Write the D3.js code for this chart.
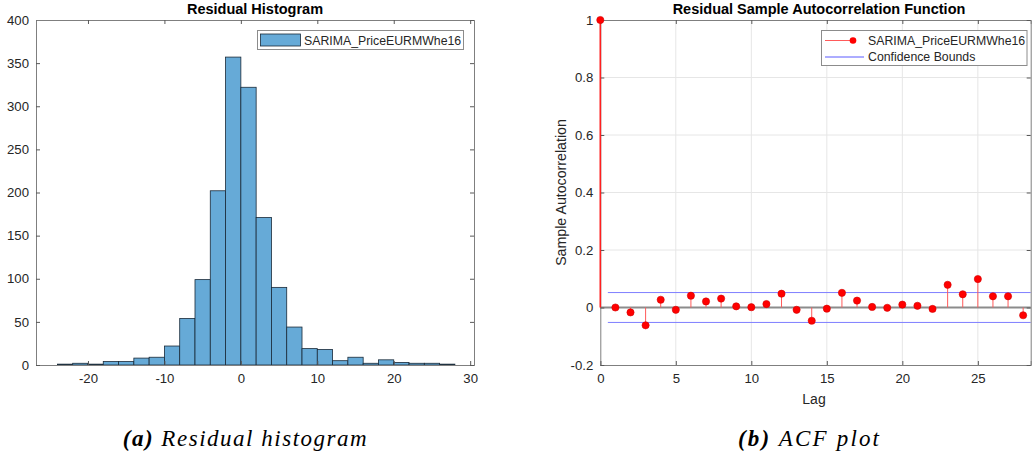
<!DOCTYPE html>
<html>
<head>
<meta charset="UTF-8">
<title>Residual plots</title>
<script src="https://d3js.org/d3.v7.min.js"></script>
<style>
  body { margin: 0; background: #fff; }
  svg text { font-family: "Liberation Sans", Arial, sans-serif; fill: #262626; }
  .caption { font-family: "Liberation Serif", "DejaVu Serif", serif; font-style: italic; fill: #000; }
</style>
</head>
<body>
<div id="chart"></div>
<script>
// histogram data (bin width 2)
var binEdges = [-24,-22,-20,-18,-16,-14,-12,-10,-8,-6,-4,-2,0,2,4,6,8,10,12,14,16,18,20,22,24,26,28];
var binCounts = [1,2,1,4,4,8,9,22,54,99,202,357,322,171,90,44,19,18,5,9,2,6,3,2,2,1];
var histXTicks = [-20,-10,0,10,20,30];
var histYTicks = [0,50,100,150,200,250,300,350,400];

// autocorrelation data
var lags = d3.range(0, 29);
var acf = [1,0.0,-0.017,-0.062,0.027,-0.008,0.041,0.021,0.031,0.004,0.001,0.012,0.048,
           -0.008,-0.046,-0.004,0.051,0.024,0.002,-0.001,0.010,0.006,-0.005,0.079,0.046,0.099,0.039,0.039,-0.027];
var confBound = 0.052;
var acfXTicks = [0,5,10,15,20,25];
var acfYTicks = [-0.2,0,0.2,0.4,0.6,0.8,1];

var svg = d3.select("#chart").append("svg")
  .attr("width", 1033).attr("height", 460);

var axisCol = "#262626";
var plain = function(d) { return String(+(+d).toFixed(1)); }; // hyphen minus like matlab

// ---------------- left: histogram ----------------
var h = {left: 36, right: 474, top: 20, bottom: 365};
var hx = d3.scaleLinear().domain([-26.8, 30.5]).range([h.left, h.right]);
var hy = d3.scaleLinear().domain([0, 400]).range([h.bottom, h.top]);
var g1 = svg.append("g");

g1.selectAll("rect.bar")
  .data(binCounts)
  .enter().append("rect")
  .attr("class", "bar")
  .attr("x", function(d, i) { return hx(binEdges[i]); })
  .attr("width", function(d, i) { return hx(binEdges[i+1]) - hx(binEdges[i]); })
  .attr("y", function(d) { return hy(d); })
  .attr("height", function(d) { return hy(0) - hy(d); })
  .style("fill", "#66aad7")
  .style("stroke", "#1a2a38")
  .style("stroke-width", 0.8);

function drawAxes(g, x, y, xt, yt, box) {
  var b = g.append("g").attr("transform", "translate(0," + box.bottom + ")")
    .call(d3.axisBottom(x).tickValues(xt).tickSize(-4).tickPadding(9).tickFormat(plain));
  var l = g.append("g").attr("transform", "translate(" + box.left + ",0)")
    .call(d3.axisLeft(y).tickValues(yt).tickSize(-4).tickPadding(7).tickFormat(plain));
  var t = g.append("g").attr("transform", "translate(0," + box.top + ")")
    .call(d3.axisTop(x).tickValues(xt).tickSize(-4).tickFormat(""));
  var r = g.append("g").attr("transform", "translate(" + box.right + ",0)")
    .call(d3.axisRight(y).tickValues(yt).tickSize(-4).tickFormat(""));
  [b, l, t, r].forEach(function(a) {
    a.select(".domain").attr("stroke", "#7f7f7f").attr("stroke-width", 1);
    a.selectAll(".tick line").attr("stroke", "#595959");
    a.selectAll("text").style("font-size", "13.2px").style("fill", axisCol)
      .style("font-family", "'Liberation Sans', Arial, sans-serif");
  });
}

drawAxes(g1, hx, hy, histXTicks, histYTicks, h);

g1.append("text")
  .attr("x", 255).attr("y", 14)
  .attr("text-anchor", "middle")
  .style("font-size", "14.5px").style("font-weight", "bold").style("fill", "#000")
  .text("Residual Histogram");

// legend
var lg1 = g1.append("g");
lg1.append("rect").attr("x", 257.5).attr("y", 30.5).attr("width", 206).attr("height", 19)
  .style("fill", "#fff").style("stroke", "#8c8c8c").style("stroke-width", 1);
lg1.append("rect").attr("x", 260.5).attr("y", 34).attr("width", 40).attr("height", 12)
  .style("fill", "#66aad7").style("stroke", "#1a2a38").style("stroke-width", 0.8);
lg1.append("text").attr("x", 304).attr("y", 44.5)
  .style("font-size", "12.3px").text("SARIMA_PriceEURMWhe16");

// ---------------- right: ACF ----------------
var a = {left: 600.3, right: 1030.7, top: 20, bottom: 365};
var ax = d3.scaleLinear().domain([0, 28.5]).range([a.left, a.right]);
var ay = d3.scaleLinear().domain([-0.2, 1]).range([a.bottom, a.top]);
var g2 = svg.append("g");

// grid
g2.selectAll("line.gx").data(acfXTicks.slice(1)).enter().append("line")
  .attr("x1", function(d) { return ax(d); }).attr("x2", function(d) { return ax(d); })
  .attr("y1", a.top).attr("y2", a.bottom)
  .style("stroke", "#e6e6e6").style("stroke-width", 1);
g2.selectAll("line.gy").data(acfYTicks.slice(1, -1)).enter().append("line")
  .attr("x1", a.left).attr("x2", a.right)
  .attr("y1", function(d) { return ay(d); }).attr("y2", function(d) { return ay(d); })
  .style("stroke", "#e6e6e6").style("stroke-width", 1);

// baseline
g2.append("line")
  .attr("x1", ax(0)).attr("x2", a.right)
  .attr("y1", ay(0)).attr("y2", ay(0))
  .style("stroke", "#8c8c8c").style("stroke-width", 2);

// confidence bounds
[confBound, -confBound].forEach(function(c) {
  g2.append("line")
    .attr("x1", ax(0.5)).attr("x2", ax(28.5))
    .attr("y1", ay(c)).attr("y2", ay(c))
    .style("stroke", "#7f7fff").style("stroke-width", 1);
});

drawAxes(g2, ax, ay, acfXTicks, acfYTicks, a);

// stems
g2.selectAll("line.stem").data(lags).enter().append("line")
  .attr("x1", function(d) { return ax(d); }).attr("x2", function(d) { return ax(d); })
  .attr("y1", ay(0)).attr("y2", function(d) { return ay(acf[d]); })
  .style("stroke", function(d) { return d === 0 ? "#ff2020" : "#ff5a5a"; })
  .style("stroke-width", function(d) { return d === 0 ? 1.6 : 1; });

g2.selectAll("circle.pt").data(lags).enter().append("circle")
  .attr("cx", function(d) { return ax(d); })
  .attr("cy", function(d) { return ay(acf[d]); })
  .attr("r", 3.6)
  .style("fill", "#ff0000").style("stroke", "#d40000").style("stroke-width", 0.6);

g2.append("text")
  .attr("x", 819).attr("y", 14)
  .attr("text-anchor", "middle")
  .style("font-size", "14.5px").style("font-weight", "bold").style("fill", "#000")
  .text("Residual Sample Autocorrelation Function");

g2.append("text")
  .attr("x", 814).attr("y", 404)
  .attr("text-anchor", "middle")
  .style("font-size", "14px")
  .text("Lag");

g2.append("text")
  .attr("transform", "translate(566," + (a.top + a.bottom) / 2 + ") rotate(-90)")
  .attr("text-anchor", "middle")
  .style("font-size", "14.2px")
  .text("Sample Autocorrelation");

// legend
var lg2 = g2.append("g");
lg2.append("rect").attr("x", 821.5).attr("y", 30.5).attr("width", 205.5).attr("height", 35)
  .style("fill", "#fff").style("stroke", "#8c8c8c").style("stroke-width", 1);
lg2.append("line").attr("x1", 825).attr("x2", 853).attr("y1", 40.5).attr("y2", 40.5)
  .style("stroke", "#ff5a5a").style("stroke-width", 1);
lg2.append("circle").attr("cx", 853).attr("cy", 40.5).attr("r", 3.3)
  .style("fill", "#ff0000");
lg2.append("line").attr("x1", 825).attr("x2", 864).attr("y1", 57).attr("y2", 57)
  .style("stroke", "#5a5aff").style("stroke-width", 1);
lg2.append("text").attr("x", 868).attr("y", 45)
  .style("font-size", "12.3px").text("SARIMA_PriceEURMWhe16");
lg2.append("text").attr("x", 868).attr("y", 61)
  .style("font-size", "12.3px").text("Confidence Bounds");

// ---------------- captions ----------------
var capA = svg.append("text").attr("class", "caption")
  .attr("x", 122.7).attr("y", 446)
  .attr("textLength", 244).attr("lengthAdjust", "spacing")
  .style("font-size", "23px");
capA.append("tspan").style("font-weight", "bold").text("(a)");
capA.append("tspan").text("  Residual histogram");

var capB = svg.append("text").attr("class", "caption")
  .attr("x", 738).attr("y", 446)
  .attr("textLength", 141).attr("lengthAdjust", "spacing")
  .style("font-size", "23px");
capB.append("tspan").style("font-weight", "bold").text("(b)");
capB.append("tspan").text("  ACF plot");
</script>
</body>
</html>
